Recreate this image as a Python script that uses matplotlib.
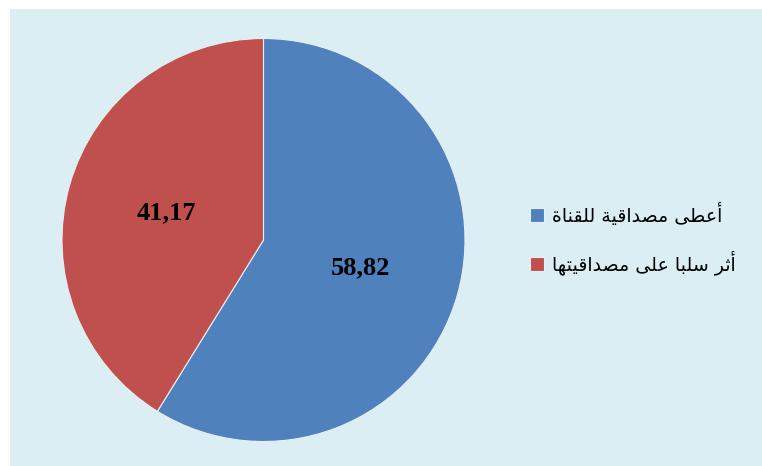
import matplotlib
matplotlib.use("Agg")
import matplotlib.pyplot as plt
from matplotlib.patches import Rectangle

# Survey answers (percent) and their legend labels
categories = ["أعطى مصداقية للقناة", "أثر سلبا على مصداقيتها"]
values = [58.82, 41.17]
value_labels = ["58,82", "41,17"]
colors = ["#4F81BD", "#C0504D"]

# --- minimal Arabic shaping: contextual presentation forms + visual order ---
_TWO = {'\u0622': 0xFE81, '\u0623': 0xFE83, '\u0624': 0xFE85, '\u0625': 0xFE87,
        '\u0627': 0xFE8D, '\u0629': 0xFE93, '\u062F': 0xFEA9, '\u0630': 0xFEAB,
        '\u0631': 0xFEAD, '\u0632': 0xFEAF, '\u0648': 0xFEED, '\u0649': 0xFEEF}
_FOUR = {'\u0626': 0xFE89, '\u0628': 0xFE8F, '\u062A': 0xFE95, '\u062B': 0xFE99,
         '\u062C': 0xFE9D, '\u062D': 0xFEA1, '\u062E': 0xFEA5, '\u0633': 0xFEB1,
         '\u0634': 0xFEB5, '\u0635': 0xFEB9, '\u0636': 0xFEBD, '\u0637': 0xFEC1,
         '\u0638': 0xFEC5, '\u0639': 0xFEC9, '\u063A': 0xFECD, '\u0641': 0xFED1,
         '\u0642': 0xFED5, '\u0643': 0xFED9, '\u0644': 0xFEDD, '\u0645': 0xFEE1,
         '\u0646': 0xFEE5, '\u0647': 0xFEE9, '\u064A': 0xFEF1}


def shape_arabic(s):
    out = []
    for i, c in enumerate(s):
        if c in _TWO or c in _FOUR:
            prev = s[i - 1] if i > 0 else ''
            nxt = s[i + 1] if i + 1 < len(s) else ''
            jp = prev in _FOUR
            jn = c in _FOUR and (nxt in _FOUR or nxt in _TWO)
            base = _FOUR.get(c, _TWO.get(c))
            off = 3 if (jp and jn) else 1 if jp else 2 if jn else 0
            out.append(chr(base + off))
        else:
            out.append(c)
    return ''.join(reversed(out))


W, H = 762, 466
fig = plt.figure(figsize=(W / 100, H / 100), dpi=100)
fig.patch.set_facecolor("white")
fig.patches.append(Rectangle((10 / W, 0), 1, (H - 9) / H, transform=fig.transFigure,
                             facecolor="#DBEEF3", edgecolor="none", zorder=-10))

cx, cy, r = 263.5, 240, 201.5
ax = fig.add_axes([(cx - r) / W, (H - cy - r) / H, 2 * r / W, 2 * r / H])
ax.set_facecolor("none")

wedges, texts = ax.pie(values, labels=value_labels, colors=colors, startangle=90,
                       counterclock=False, labeldistance=0.5,
                       wedgeprops=dict(edgecolor="#E8EEF5", linewidth=0.8),
                       textprops=dict(family="Liberation Serif", fontweight="bold",
                                      fontsize=19, color="black"))
for t in texts:
    t.set_ha("center")
    t.set_va("center")
ax.set_xlim(-1, 1)
ax.set_ylim(-1, 1)
ax.set_aspect("equal")

leg = fig.legend(wedges, [shape_arabic(c) for c in categories],
                 loc="upper left", bbox_to_anchor=(530 / W, 1 - 203 / H),
                 frameon=False, prop=dict(family="DejaVu Sans", size=13.6),
                 handlelength=0.76, handleheight=0.76, handletextpad=0.42,
                 labelspacing=1.31, borderpad=0, borderaxespad=0)

fig.savefig("out.png", dpi=100, facecolor=fig.get_facecolor())
